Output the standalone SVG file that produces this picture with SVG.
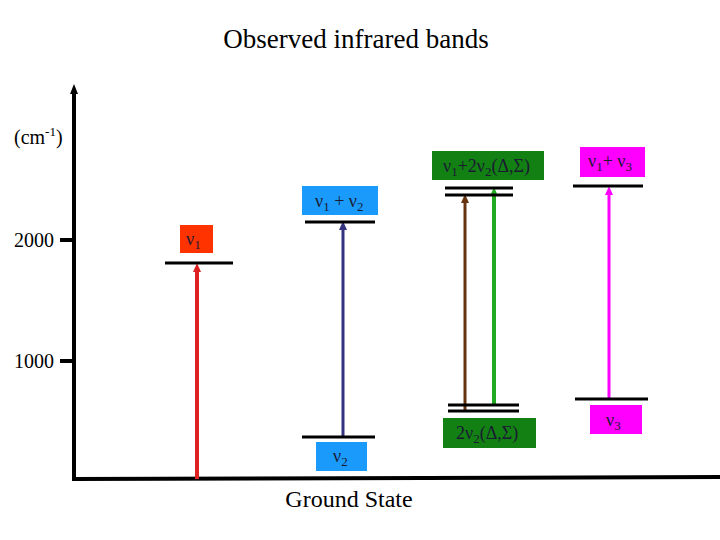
<svg xmlns="http://www.w3.org/2000/svg" width="720" height="540" viewBox="0 0 720 540">
<style>
text{font-family:"Liberation Serif","Times New Roman",serif;fill:#000}
.lbl{font-size:18px;fill:#1a1a33}
.sub{font-size:13px}
.lvl{stroke:#000;stroke-width:3;fill:none}
.ax{stroke:#000;stroke-width:4;fill:none}
</style>
<defs>
<marker id="ah" markerWidth="9" markerHeight="8" refX="4" refY="4" orient="auto" markerUnits="userSpaceOnUse"><path d="M0,0 L9,4 L0,8z" fill="context-stroke"/></marker>
<marker id="axh" markerWidth="10" markerHeight="8" refX="2" refY="4" orient="auto" markerUnits="userSpaceOnUse"><path d="M0,0 L10,4 L0,8z" fill="#000"/></marker>
</defs>
<text x="356" y="48" font-size="27" text-anchor="middle">Observed infrared bands</text>
<g id="axes">
<line class="ax" x1="74" y1="480" x2="74" y2="92" marker-end="url(#axh)"/>
<line class="ax" x1="72" y1="479" x2="720" y2="477"/>
<line class="ax" x1="60" y1="240" x2="74" y2="240"/>
<line class="ax" x1="60" y1="361" x2="74" y2="361"/>
<text x="14" y="247" font-size="20">2000</text>
<text x="14" y="368" font-size="20">1000</text>
<text x="14" y="144" font-size="20">(cm<tspan font-size="13" dy="-8">-1</tspan><tspan dy="8">)</tspan></text>
<text x="349" y="507" font-size="24" text-anchor="middle">Ground State</text>
</g>
<g id="connectors">
<line x1="197" y1="479" x2="197" y2="268" stroke="#dd2020" stroke-width="4" marker-end="url(#ah)"/>
<line x1="343" y1="437" x2="343" y2="226" stroke="#33337f" stroke-width="3" marker-end="url(#ah)"/>
<line x1="465" y1="410" x2="465" y2="199" stroke="#663311" stroke-width="3" marker-end="url(#ah)"/>
<line x1="494" y1="405" x2="494" y2="192" stroke="#22aa22" stroke-width="4" marker-end="url(#ah)"/>
<line x1="609" y1="399" x2="609" y2="191" stroke="#ff00ff" stroke-width="3" marker-end="url(#ah)"/>
</g>
<g id="v1">
<line class="lvl" x1="165" y1="263" x2="233" y2="263"/>
<rect x="180" y="225" width="33" height="28" fill="#ff3300"/>
<text class="lbl" x="186" y="245">ν<tspan class="sub" dy="4">1</tspan></text>
</g>
<g id="v1v2">
<line class="lvl" x1="305" y1="222" x2="375" y2="222"/>
<rect x="302" y="186" width="76" height="29" fill="#1a9bfc"/>
<text class="lbl" x="315" y="207">ν<tspan class="sub" dy="4">1</tspan><tspan dy="-4"> + ν</tspan><tspan class="sub" dy="4">2</tspan></text>
</g>
<g id="v2">
<line class="lvl" x1="302" y1="437" x2="375" y2="437"/>
<rect x="316" y="442" width="51" height="29" fill="#1a9bfc"/>
<text class="lbl" x="333" y="462">ν<tspan class="sub" dy="4">2</tspan></text>
</g>
<g id="v1_2v2">
<line class="lvl" x1="445" y1="188" x2="513" y2="188"/>
<line class="lvl" x1="445" y1="195" x2="513" y2="195"/>
<rect x="432" y="151" width="112" height="29" fill="#128012"/>
<text class="lbl" x="443" y="172">ν<tspan class="sub" dy="4">1</tspan><tspan dy="-4">+2ν</tspan><tspan class="sub" dy="4">2</tspan><tspan dy="-4">(Δ,Σ)</tspan></text>
</g>
<g id="2v2">
<line class="lvl" x1="448" y1="405" x2="519" y2="405"/>
<line class="lvl" x1="448" y1="411" x2="519" y2="411"/>
<rect x="443" y="418" width="93" height="30" fill="#128012"/>
<text class="lbl" x="456" y="439">2ν<tspan class="sub" dy="4">2</tspan><tspan dy="-4">(Δ,Σ)</tspan></text>
</g>
<g id="v1v3">
<line class="lvl" x1="573" y1="186" x2="643" y2="186"/>
<rect x="580" y="147" width="65" height="30" fill="#ff00ff"/>
<text class="lbl" x="588" y="167">ν<tspan class="sub" dy="4">1</tspan><tspan dy="-4">+ ν</tspan><tspan class="sub" dy="4">3</tspan></text>
</g>
<g id="v3">
<line class="lvl" x1="575" y1="399" x2="648" y2="399"/>
<rect x="590" y="405" width="52" height="29" fill="#ff00ff"/>
<text class="lbl" x="606" y="426">ν<tspan class="sub" dy="4">3</tspan></text>
</g>
</svg>
